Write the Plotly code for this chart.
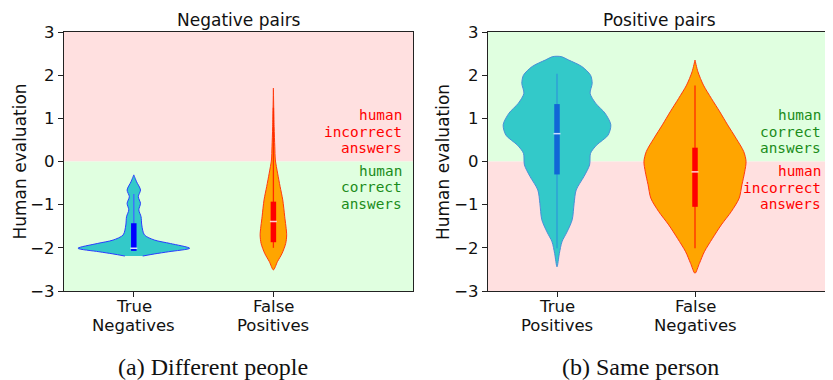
"""
Violin plots of human evaluation scores, negative vs positive pairs
"""

import plotly.graph_objects as go
from plotly.subplots import make_subplots

# --- data ----------------------------------------------------------------

neg_labels = [["True", "Negatives"], ["False", "Positives"]]
pos_labels = [["True", "Positives"], ["False", "Negatives"]]

# violin outlines: human evaluation level and half-width of the density
tn_y = [-2.19, -2.14, -2.09, -2.01, -1.90, -1.82, -1.70, -1.47, -1.28,
        -1.12, -0.97, -0.815, -0.66, -0.47, -0.31]
tn_half = [0.064, 0.15, 0.25, 0.40, 0.262, 0.148, 0.076, 0.057, 0.052,
           0.036, 0.048, 0.032, 0.048, 0.020, 0.0]

fp_y = [-2.51, -2.32, -2.13, -1.90, -1.70, -1.28, -0.89, -0.58, -0.27,
        0.035, 0.34, 0.81, 1.70]
fp_half = [0.0, 0.029, 0.062, 0.088, 0.095, 0.081, 0.067, 0.048, 0.030,
           0.014, 0.010, 0.005, 0.0]

tp_y = [-2.44, -2.13, -1.86, -1.63, -1.35, -0.97, -0.66, -0.35, -0.08,
        0.19, 0.38, 0.61, 0.85, 1.12, 1.35, 1.58, 1.81, 2.00, 2.20, 2.35, 2.43]
tp_half = [0.0, 0.017, 0.036, 0.073, 0.110, 0.124, 0.139, 0.195, 0.236,
           0.243, 0.287, 0.370, 0.390, 0.348, 0.280, 0.240, 0.255, 0.243,
           0.180, 0.085, 0.030]

fn_y = [-2.59, -2.36, -2.09, -1.78, -1.47, -1.16, -0.85, -0.54, -0.24,
        0.0, 0.23, 0.54, 0.85, 1.15, 1.46, 1.77, 2.08, 2.35]
fn_half = [0.0, 0.032, 0.068, 0.127, 0.190, 0.263, 0.320, 0.340, 0.360,
           0.370, 0.353, 0.297, 0.236, 0.180, 0.119, 0.061, 0.021, 0.0]

# inner box stats (per category, in label order)
neg_q1 = [-2.07, -1.87]
neg_med = [-2.01, -1.39]
neg_q3 = [-1.43, -0.93]
neg_lo = [-2.07, -2.00]
neg_hi = [-0.75, 1.25]

pos_q1 = [-0.30, -1.05]
pos_med = [0.645, -0.24]
pos_q3 = [1.33, 0.32]
pos_lo = [-2.01, -2.01]
pos_hi = [2.03, 1.76]

# --- styles ----------------------------------------------------------------

CYAN = "#33c9c9"
ORANGE = "#ffa500"
FONT = "DejaVu Sans"
MONO = "DejaVu Sans Mono"
PINK_BG = "rgb(255,224,224)"
GREEN_BG = "rgb(224,255,224)"

STYLE_TN = dict(fill=CYAN, edge="#2a3cff", box="#0000ff", whisk="#3f6cff", med="#d8e4ff")
STYLE_TP = dict(fill=CYAN, edge="#4a8fd8", box="#1166d6", whisk="#2d9ad8", med="#c8dcff")
STYLE_RED = dict(fill=ORANGE, edge="#ff3a10", box="#ff0000", whisk="#ff2a00", med="#ffd0d0")

PAGE_OFFSET = 8  # the page body margin pushes the figure right/down by this much
W, H = 833 - PAGE_OFFSET, 380 - PAGE_OFFSET


def add_violin(fig, col, pos, ys, half, q1, med, q3, lo, hi, st):
    """Outline from the density profile, then whisker, box and median"""
    xs = [pos + h for h in half] + [pos - h for h in reversed(half)]
    yy = list(ys) + list(reversed(ys))
    fig.add_trace(go.Scatter(
        x=xs, y=yy, mode="lines", fill="toself", fillcolor=st["fill"],
        line=dict(color=st["edge"], width=1, shape="spline", smoothing=0.8),
        hoverinfo="skip", showlegend=False), row=1, col=col)
    fig.add_trace(go.Scatter(
        x=[pos, pos], y=[lo, hi], mode="lines",
        line=dict(color=st["whisk"], width=1.3),
        hoverinfo="skip", showlegend=False), row=1, col=col)
    fig.add_trace(go.Scatter(
        x=[pos, pos], y=[q1, q3], mode="lines",
        line=dict(color=st["box"], width=5.5),
        hoverinfo="skip", showlegend=False), row=1, col=col)
    fig.add_trace(go.Scatter(
        x=[pos], y=[med], mode="markers",
        marker=dict(symbol="line-ew", size=5, line=dict(color=st["med"], width=1.5)),
        hoverinfo="skip", showlegend=False), row=1, col=col)


def px_x(p):
    return (p - PAGE_OFFSET) / W


def px_y(p):
    return 1 - (p - PAGE_OFFSET) / H


def note(text, x, y, font, **kw):
    """Paper-positioned text, anchored explicitly"""
    d = dict(text=text, x=px_x(x), y=px_y(y), xref="paper", yref="paper",
             xanchor="center", yanchor="middle", showarrow=False, font=font)
    d.update(kw)
    return d


fig = make_subplots(rows=1, cols=2)

add_violin(fig, 1, 1, tn_y, tn_half, neg_q1[0], neg_med[0], neg_q3[0], neg_lo[0], neg_hi[0], STYLE_TN)
add_violin(fig, 1, 2, fp_y, fp_half, neg_q1[1], neg_med[1], neg_q3[1], neg_lo[1], neg_hi[1], STYLE_RED)
add_violin(fig, 2, 1, tp_y, tp_half, pos_q1[0], pos_med[0], pos_q3[0], pos_lo[0], pos_hi[0], STYLE_TP)
add_violin(fig, 2, 2, fn_y, fn_half, pos_q1[1], pos_med[1], pos_q3[1], pos_lo[1], pos_hi[1], STYLE_RED)

axis_common = dict(
    showline=True, linecolor="#222", linewidth=1.2, mirror=True,
    ticks="outside", ticklen=5, tickwidth=1.2, tickcolor="#222",
    showgrid=False, zeroline=False, automargin=False,
    tickfont=dict(family=FONT, size=16.5, color="#111"),
)

fig.update_xaxes(range=[0.5, 3.0], tickvals=[1, 2], showticklabels=False, **axis_common)
fig.update_yaxes(range=[-3, 3], tickvals=[-3, -2, -1, 0, 1, 2, 3], **axis_common)
fig.update_xaxes(domain=[px_x(64), px_x(413)], row=1, col=1)
fig.update_xaxes(domain=[px_x(488), 1.0], row=1, col=2)
fig.update_yaxes(domain=[px_y(291), px_y(32)])

# background bands: upper half / lower half of each panel
shapes = []
for xref, yref, top, bottom in [("x domain", "y", PINK_BG, GREEN_BG),
                                ("x2 domain", "y2", GREEN_BG, PINK_BG)]:
    shapes.append(dict(type="rect", xref=xref, yref=yref, x0=0, x1=1, y0=0, y1=3,
                       fillcolor=top, line_width=0, layer="below"))
    shapes.append(dict(type="rect", xref=xref, yref=yref, x0=0, x1=1, y0=-3, y1=0,
                       fillcolor=bottom, line_width=0, layer="below"))

annotations = []
label_font = dict(family=FONT, size=17, color="#111")
tick_font = dict(family=FONT, size=16.5, color="#111")

# category labels under each tick, two lines each
for xref, labels in [("x", neg_labels), ("x2", pos_labels)]:
    for pos, lines in enumerate(labels, start=1):
        for py, line in zip([306, 325], lines):
            annotations.append(dict(text=line, x=pos, xref=xref, y=px_y(py), yref="paper",
                                    xanchor="center", yanchor="middle", showarrow=False,
                                    font=tick_font))

# panel titles and y axis titles
for text, cx in [("Negative pairs", 238.5), ("Positive pairs", 659)]:
    annotations.append(note(text, cx, 20, label_font))
for cx in [19.5, 443]:
    annotations.append(note("Human evaluation", cx, 162, label_font, textangle=-90))

# "human correct / incorrect answers" notes, one line at a time
# (right panel notes kept just inside the visible window edge)
notes = [
    (404, [115, 131.7, 148.3], ["human", "incorrect", "answers"], "#ff0000"),
    (404, [170.7, 187.3, 204], ["human", "correct", "answers"], "#1a8c1a"),
    (823, [115, 131.7, 148.3], ["human", "correct", "answers"], "#1a8c1a"),
    (823, [171, 188, 204.3], ["human", "incorrect", "answers"], "#ff0000"),
]
for right, rows, words, color in notes:
    for py, word in zip(rows, words):
        annotations.append(note(word, right, py, dict(family=MONO, size=14.4, color=color),
                                xanchor="right"))

# sub-figure captions
for text, cx in [("(a) Different people", 213), ("(b) Same person", 640)]:
    annotations.append(note(text, cx, 367, dict(family="Liberation Serif", size=24, color="#111")))

fig.update_layout(
    width=W, height=H,
    margin=dict(l=0, r=0, t=0, b=0),
    plot_bgcolor="white", paper_bgcolor="white",
    shapes=shapes, annotations=annotations,
    showlegend=False,
)

fig.write_html("out.html")
